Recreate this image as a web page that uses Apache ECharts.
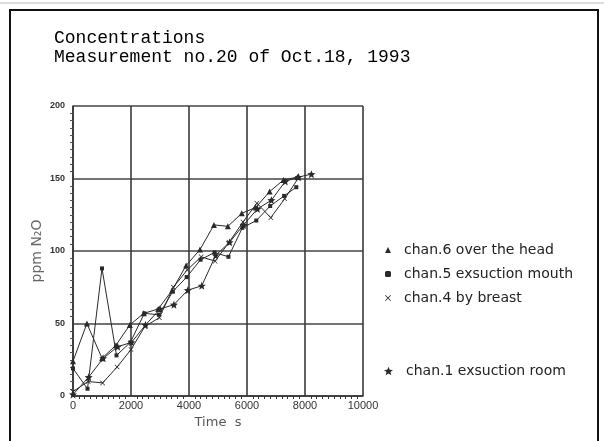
<!DOCTYPE html>
<html><head><meta charset="utf-8">
<script src="https://cdn.jsdelivr.net/npm/echarts@6/dist/echarts.min.js"></script>
<style>html,body{margin:0;padding:0;background:#fff}#c{width:604px;height:441px}</style>
</head><body><div id="c"></div>
<script>
const titleLines = ["Concentrations", "Measurement no.20 of Oct.18, 1993"];
const xTicks = [0, 2000, 4000, 6000, 8000, 10000];
const yTicks = [0, 50, 100, 150, 200];

const chan6Name = "chan.6 over the head";
const chan6T = [0, 480, 1000, 1480, 1960, 2440, 2940, 3420, 3900, 4380, 4860, 5340, 5820, 6300, 6780, 7260, 7740];
const chan6V = [24, 50, 26, 35, 49, 57, 60, 73, 90, 101, 118, 117, 126, 130, 141, 149, 151];

const chan5Name = "chan.5 exsuction mouth";
const chan5T = [0, 500, 1000, 1500, 1980, 2460, 2960, 3440, 3920, 4400, 4880, 5360, 5840, 6320, 6800, 7280, 7700];
const chan5V = [19, 5, 88, 28, 37, 57, 56, 72, 82, 94, 99, 96, 116, 121, 131, 138, 144];

const chan4Name = "chan.4 by breast";
const chan4T = [0, 520, 1020, 1520, 2000, 2480, 2980, 3460, 3940, 4420, 4900, 5380, 5860, 6340, 6820, 7300, 7760];
const chan4V = [3, 10, 9, 20, 32, 48, 54, 75, 87, 96, 93, 106, 120, 133, 123, 136, 150];

const chan1Name = "chan.1 exsuction room";
const chan1T = [0, 540, 1040, 1540, 2020, 2500, 3000, 3480, 3960, 4440, 4920, 5400, 5880, 6360, 6840, 7320, 7780, 8220];
const chan1V = [1, 13, 26, 34, 37, 49, 60, 63, 73, 76, 97, 106, 118, 129, 135, 148, 151, 153];

const pairs = (t, v) => t.map((x, i) => [x, v[i]]);
const ink = '#2a2a2a';
const starPath = 'path://M0,-10 L2.6,-3.5 L9.5,-3.1 L4.2,1.3 L5.9,8.1 L0,4.3 L-5.9,8.1 L-4.2,1.3 L-9.5,-3.1 L-2.6,-3.5 Z';
const xPath = 'path://M0,1 L1,0 L5,4 L9,0 L10,1 L6,5 L10,9 L9,10 L5,6 L1,10 L0,9 L4,5 Z';

function mk(name, t, v, symbol, size) {
  return {
    name: name, type: 'line', data: pairs(t, v), symbol: symbol, symbolSize: size,
    lineStyle: {color: ink, width: 1}, itemStyle: {color: ink}, animation: false
  };
}

const legendText = {fontFamily: 'DejaVu Sans', fontSize: 14, color: '#222', lineHeight: 16, padding: [0, 0, 0, 8]};

const chart = echarts.init(document.getElementById('c'), null, {renderer: 'canvas'});
chart.setOption({
  backgroundColor: '#fff',
  animation: false,
  title: {
    text: titleLines.join('\n'), left: 49, top: 24,
    textStyle: {fontFamily: 'Liberation Mono', fontSize: 18, fontWeight: 'normal', color: '#000', lineHeight: 19}
  },
  legend: [{
    data: [{name: chan6Name, icon: 'triangle'}, {name: chan5Name, icon: 'roundRect'}, {name: chan4Name, icon: xPath}],
    orient: 'vertical', left: 380, top: 237, itemWidth: 6, itemHeight: 6, itemGap: 8,
    textStyle: legendText, selectedMode: false
  }, {
    data: [{name: chan1Name, icon: starPath}],
    orient: 'vertical', left: 379, top: 358, itemWidth: 9, itemHeight: 9,
    textStyle: legendText, selectedMode: false
  }],
  grid: {left: 73, right: 241, top: 106, bottom: 45, containLabel: false},
  xAxis: {
    type: 'value', min: xTicks[0], max: xTicks[xTicks.length - 1], interval: 2000,
    name: 'Time  s', nameLocation: 'middle', nameGap: 20,
    nameTextStyle: {fontFamily: 'DejaVu Sans', fontSize: 13, color: '#555'},
    axisLine: {show: true, lineStyle: {color: '#333', width: 1.5}},
    axisTick: {show: false},
    minorTick: {show: true, splitNumber: 10, length: 3, lineStyle: {color: '#333', width: 1}},
    axisLabel: {fontFamily: 'Liberation Sans', fontSize: 11, color: '#333', margin: 4, formatter: v => String(v)},
    splitLine: {show: true, lineStyle: {color: '#3a3a3a', width: 1.6}}
  },
  yAxis: {
    type: 'value', min: yTicks[0], max: yTicks[yTicks.length - 1], interval: 50,
    name: 'ppm N\u2082O', nameLocation: 'middle', nameGap: 29, nameRotate: 90,
    nameTextStyle: {fontFamily: 'DejaVu Sans', fontSize: 14, color: '#666'},
    axisLine: {show: true, lineStyle: {color: '#333', width: 1.5}},
    axisTick: {show: false},
    minorTick: {show: true, splitNumber: 10, length: 3, lineStyle: {color: '#555', width: 1}},
    axisLabel: {fontFamily: 'Liberation Sans', fontSize: 9, fontWeight: 'bold', color: '#333', margin: 8, formatter: v => String(v)},
    splitLine: {show: true, lineStyle: {color: '#444', width: 1.6}}
  },
  graphic: [
    {type: 'rect', shape: {x: 10, y: 10, width: 588, height: 460}, style: {fill: 'none', stroke: '#111', lineWidth: 2}, silent: true},
    {type: 'line', shape: {x1: 0, y1: 3, x2: 604, y2: 3}, style: {stroke: '#bbb', lineWidth: 1}, silent: true}
  ],
  series: [
    mk(chan6Name, chan6T, chan6V, 'triangle', 6),
    mk(chan5Name, chan5T, chan5V, 'rect', 4),
    mk(chan4Name, chan4T, chan4V, xPath, 5),
    mk(chan1Name, chan1T, chan1V, starPath, 8)
  ]
});
</script></body></html>
